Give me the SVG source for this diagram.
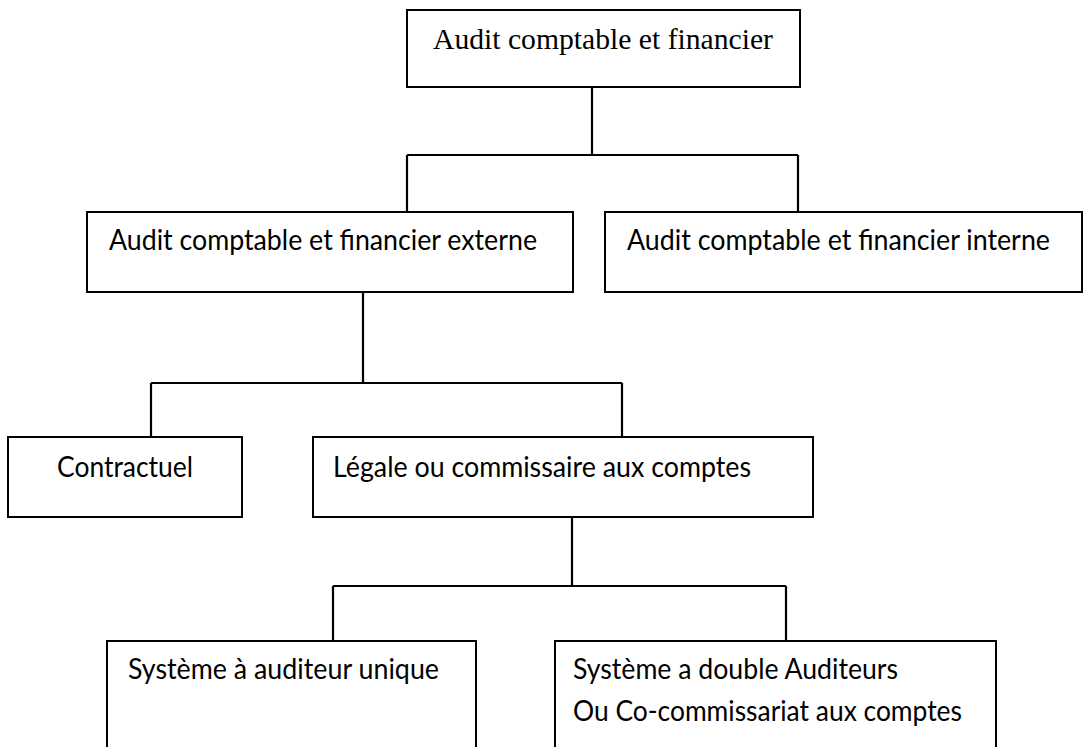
<svg xmlns="http://www.w3.org/2000/svg" width="1090" height="747" viewBox="0 0 1090 747">
<style>
.box{fill:#fff;stroke:#000;stroke-width:2}
.ln{fill:none;stroke:#000;stroke-width:2.2}
.tr{font-family:"Liberation Serif","Times New Roman",serif;font-size:29.5px;fill:#000}
.ca{font-family:Lato,"Liberation Sans",sans-serif;font-size:28.6px;fill:#000}
</style>
<rect width="1090" height="747" fill="#fff"/>
<g id="connectors">
<path class="ln" d="M592 87V155M407 155H798M407 155V212M798 155V212"/>
<path class="ln" d="M363 292V383M151 383H622M151 383V437M622 383V437"/>
<path class="ln" d="M572 517V586M333 586H786M333 586V641M786 586V641"/>
</g>
<g id="n-root">
<rect class="box" x="407" y="10" width="393" height="77"/>
<text class="tr" x="433" y="49" textLength="340" lengthAdjust="spacingAndGlyphs">Audit comptable et financier</text>
</g>
<g id="n-externe">
<rect class="box" x="87" y="212" width="486" height="80"/>
<text class="ca" x="109" y="250" textLength="428" lengthAdjust="spacingAndGlyphs">Audit comptable et financier externe</text>
</g>
<g id="n-interne">
<rect class="box" x="605" y="212" width="477" height="80"/>
<text class="ca" x="627" y="250" textLength="423" lengthAdjust="spacingAndGlyphs">Audit comptable et financier interne</text>
</g>
<g id="n-contractuel">
<rect class="box" x="8" y="437" width="234" height="80"/>
<text class="ca" x="57" y="477" textLength="136" lengthAdjust="spacingAndGlyphs">Contractuel</text>
</g>
<g id="n-legale">
<rect class="box" x="313" y="437" width="500" height="80"/>
<text class="ca" x="333" y="477" textLength="418" lengthAdjust="spacingAndGlyphs">Légale ou commissaire aux comptes</text>
</g>
<g id="n-unique">
<rect class="box" x="107" y="641" width="369" height="130"/>
<text class="ca" x="128" y="679" textLength="311" lengthAdjust="spacingAndGlyphs">Système à auditeur unique</text>
</g>
<g id="n-double">
<rect class="box" x="555" y="641" width="441" height="130"/>
<text class="ca" x="573" y="679" textLength="325" lengthAdjust="spacingAndGlyphs">Système a double Auditeurs</text>
<text class="ca" x="573" y="721" textLength="389" lengthAdjust="spacingAndGlyphs">Ou Co-commissariat aux comptes</text>
</g>
</svg>
